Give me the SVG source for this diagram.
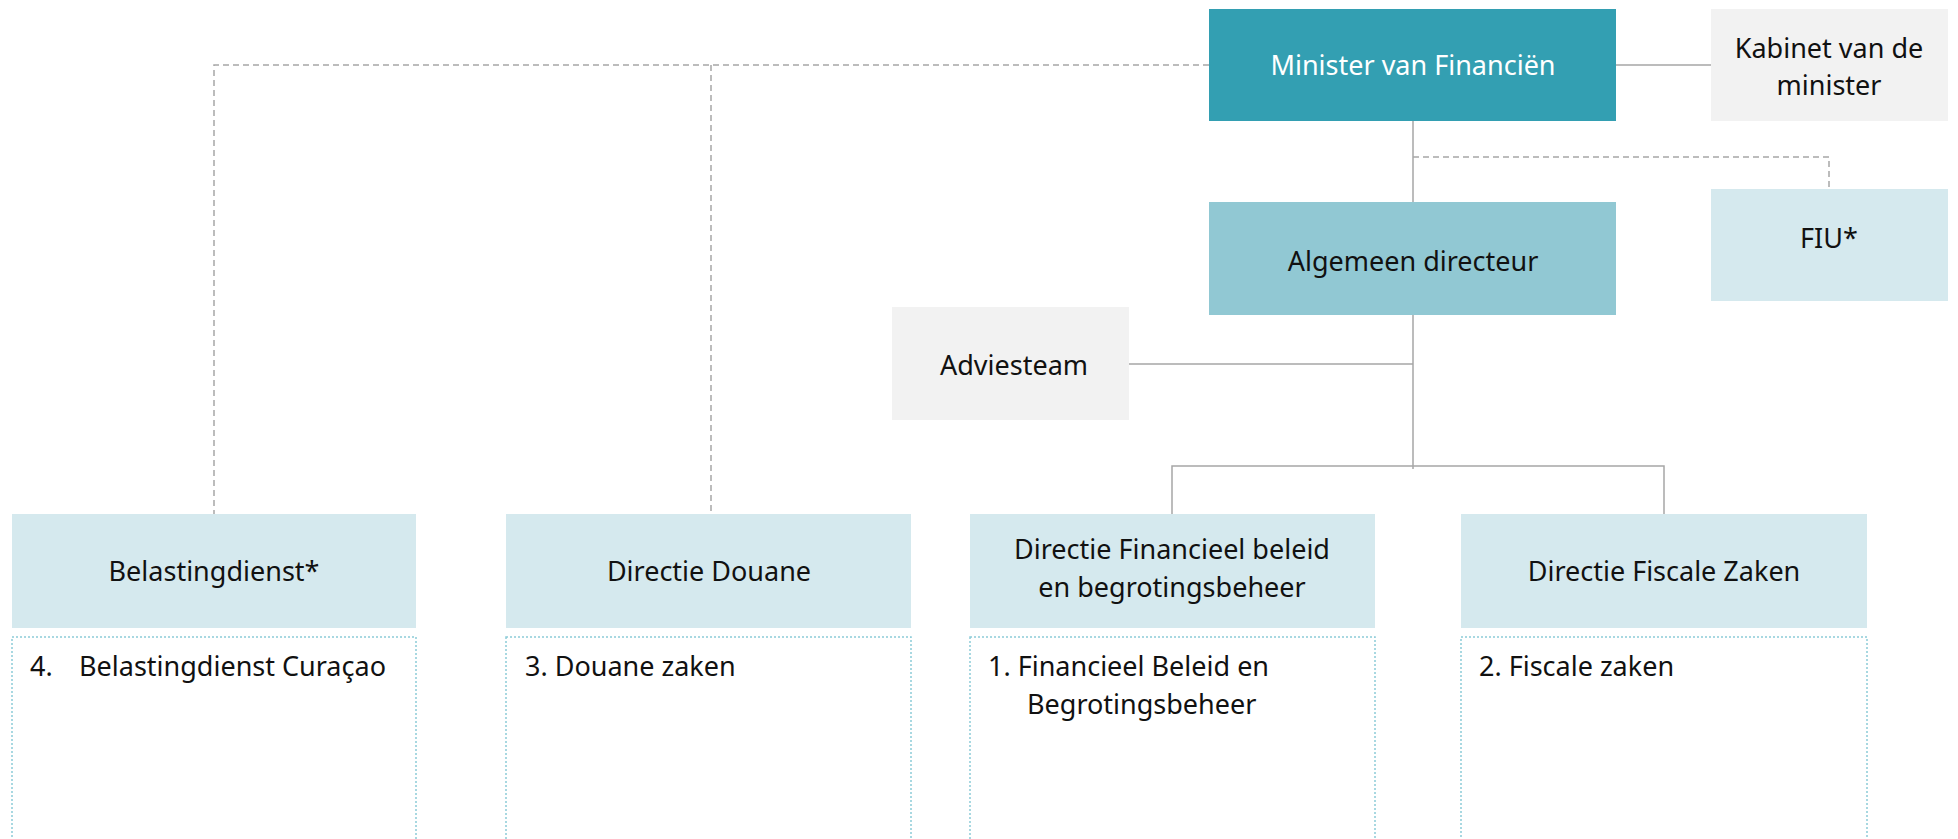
<svg xmlns="http://www.w3.org/2000/svg" width="1958" height="839" viewBox="0 0 1958 839">
<style>
text{font-family:"Noto Sans","Liberation Sans",sans-serif;font-size:27px;fill:#111;text-anchor:middle}
.w{fill:#fff}
.l{text-anchor:start}
.solid{stroke:#a6a6a6;stroke-width:1.5;fill:none}
.dash{stroke:#a6a6a6;stroke-width:1.5;fill:none;stroke-dasharray:6 4}
.top{fill:#339fb2}
.mid{fill:#91c8d3}
.lb{fill:#d5e9ee}
.gr{fill:#f2f2f2}
.dot{fill:#fff;stroke:#8ccbd8;stroke-width:1.5;stroke-dasharray:2 2}
</style>
<g id="connectors">
<path class="dash" d="M1209 65H214V514M711 65V514"/>
<path class="solid" d="M1616 65H1711"/>
<path class="solid" d="M1413 121V202"/>
<path class="dash" d="M1413 157H1829V189"/>
<path class="solid" d="M1413 315V469M1129 364H1413"/>
<path class="solid" d="M1172 514V466H1664V514"/>
</g>
<g id="minister"><rect class="top" x="1209" y="9" width="407" height="112"/><text class="w" x="1413" y="75">Minister van Financiën</text></g>
<g id="kabinet"><rect class="gr" x="1711" y="9" width="237" height="112"/><text x="1829" y="58">Kabinet van de</text><text x="1829" y="95">minister</text></g>
<g id="fiu"><rect class="lb" x="1711" y="189" width="237" height="112"/><text x="1829" y="248">FIU*</text></g>
<g id="algemeen"><rect class="mid" x="1209" y="202" width="407" height="113"/><text x="1413" y="271">Algemeen directeur</text></g>
<g id="adviesteam"><rect class="gr" x="892" y="307" width="237" height="113"/><text x="1014" y="375">Adviesteam</text></g>
<g id="belastingdienst"><rect class="lb" x="12" y="514" width="404" height="114"/><text x="214" y="581">Belastingdienst*</text></g>
<g id="douane"><rect class="lb" x="506" y="514" width="405" height="114"/><text x="709" y="581">Directie Douane</text></g>
<g id="financieel"><rect class="lb" x="970" y="514" width="405" height="114"/><text x="1172" y="559">Directie Financieel beleid</text><text x="1172" y="597">en begrotingsbeheer</text></g>
<g id="fiscale"><rect class="lb" x="1461" y="514" width="406" height="114"/><text x="1664" y="581">Directie Fiscale Zaken</text></g>
<g id="belastingdienst-list"><rect class="dot" x="12" y="637" width="404" height="260"/><text class="l" x="30" y="676">4.</text><text class="l" x="79" y="676">Belastingdienst Curaçao</text></g>
<g id="douane-list"><rect class="dot" x="506" y="637" width="405" height="260"/><text class="l" x="525" y="676">3. Douane zaken</text></g>
<g id="financieel-list"><rect class="dot" x="970" y="637" width="405" height="260"/><text class="l" x="988" y="676">1. Financieel Beleid en</text><text class="l" x="1027" y="714">Begrotingsbeheer</text></g>
<g id="fiscale-list"><rect class="dot" x="1461" y="637" width="406" height="260"/><text class="l" x="1479" y="676">2. Fiscale zaken</text></g>
</svg>
